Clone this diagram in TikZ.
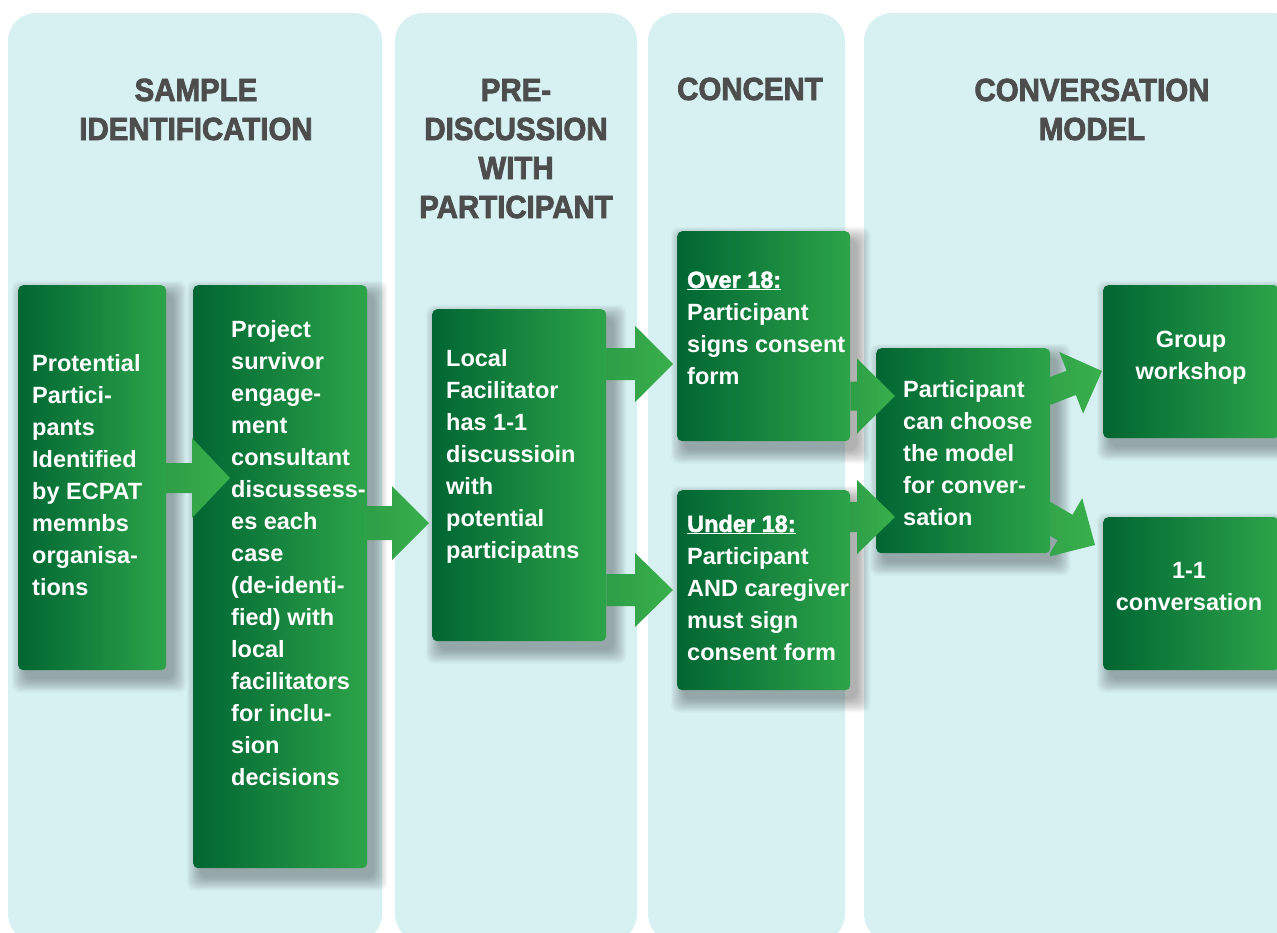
\documentclass[tikz,border=0pt]{standalone}
\usepackage{fontspec}
\setmainfont{Liberation Sans}
\newfontfamily\headfont{Liberation Sans Bold}[FakeStretch=0.92, FakeBold=2.5]
\newfontfamily\bodyfont{Liberation Sans}[UprightFont=* Bold]
\newfontfamily\heavyfont{Liberation Sans Bold}[FakeBold=2]
\usetikzlibrary{calc}

\pgfdeclarelayer{lanes}
\pgfdeclarelayer{shadows}
\pgfsetlayers{lanes,shadows,main}

\definecolor{lanebg}{HTML}{D7F1F3}
\definecolor{headgray}{HTML}{4D4D4D}
\definecolor{boxdark}{HTML}{006633}
\definecolor{boxlight}{HTML}{2DA449}
\definecolor{arrowdark}{HTML}{2E9E47}
\definecolor{arrowlight}{HTML}{38B04B}

\tikzset{
  lane/.style={fill=lanebg, rounded corners=28pt},
  flowbox/.style={rectangle, rounded corners=5pt, left color=boxdark, right color=boxlight,
    anchor=north west, inner sep=0pt},
  shadowpiece/.style={fill=black, fill opacity=0.026, rounded corners=8pt},
  headtext/.style={font=\headfont\fontsize{32}{39}\selectfont, text=headgray, align=center,
    anchor=base, inner sep=0pt},
  bodytext/.style={font=\bodyfont\fontsize{23.5}{32}\selectfont, text=white, align=left,
    anchor=base west, inner sep=0pt},
  bodytextc/.style={bodytext, align=center, anchor=base},
  arrowfill/.style={left color=arrowdark, right color=arrowlight},
}

% soft drop shadow behind a box, offset to the lower right
\newcommand\softshadow[1]{%
  \begin{pgfonlayer}{shadows}
    \foreach \r in {0,1.2,...,13.2}{%
      \path[shadowpiece] ($(#1.north west)+(7-\r,9-\r)$) rectangle ($(#1.south east)+(7+\r,9+\r)$);
    }
  \end{pgfonlayer}%
}

% block arrow: start, tip, shaft half width, head half width, head length
\newcommand\blockarrow[5]{%
  \coordinate (hb) at ($(#2)!#5!(#1)$);
  \path[arrowfill] ($(#1)!#3!90:(#2)$) -- ($(hb)!#3!90:(#2)$) -- ($(hb)!#4!90:(#2)$)
    -- (#2) -- ($(hb)!#4!-90:(#2)$) -- ($(hb)!#3!-90:(#2)$) -- ($(#1)!#3!-90:(#2)$) -- cycle;
}

\begin{document}
\begin{tikzpicture}[x=1pt,y=-1pt]
\useasboundingbox (0,0) rectangle (1277,932);
\clip (0,0) rectangle (1277,932);

% columns
\begin{pgfonlayer}{lanes}
\fill[white] (0,0) rectangle (1277,932);
\fill[lane] (8,13) rectangle (382,942);
\fill[lane] (395,13) rectangle (637,942);
\fill[lane] (648,13) rectangle (845,942);
\fill[lane] (864,13) rectangle (1300,942);
\end{pgfonlayer}

% column headings (anchored at the baseline of their last line)
\node[headtext] (h1) at (196,140) {SAMPLE\\IDENTIFICATION};
\node[headtext] (h2) at (516,218) {PRE-\\DISCUSSION\\WITH\\PARTICIPANT};
\node[headtext] (h3) at (750,100) {CONCENT};
\node[headtext] (h4) at (1092,140) {CONVERSATION\\MODEL};

% process boxes
\node[flowbox, minimum width=148pt, minimum height=385pt] (b1) at (18,285) {};
\node[flowbox, minimum width=174pt, minimum height=583pt] (b2) at (193,285) {};
\node[flowbox, minimum width=174pt, minimum height=332pt] (b3) at (432,309) {};
\node[flowbox, minimum width=173pt, minimum height=210pt] (b4) at (677,231) {};
\node[flowbox, minimum width=173pt, minimum height=200pt] (b5) at (677,490) {};
\node[flowbox, minimum width=174pt, minimum height=205pt] (b6) at (876,348) {};
\node[flowbox, minimum width=176pt, minimum height=153pt] (b7) at (1103,285) {};
\node[flowbox, minimum width=176pt, minimum height=153pt] (b8) at (1103,517) {};
\foreach \b in {b1,b2,b3,b4,b5,b6,b7,b8}{\softshadow{\b}}

% arrow end points
\coordinate (a1t) at (230,478);
\coordinate (a2t) at (429,523);
\coordinate (a3t) at (673,364);
\coordinate (a4t) at (673,590);
\coordinate (a5t) at (895,396);
\coordinate (a6t) at (895,517);
\coordinate (a7s) at (1030,398.7);
\coordinate (a7t) at (1102,371);
\coordinate (a8s) at (1030,507);
\coordinate (a8t) at (1095,545);

% arrows
\blockarrow{b1.east |- a1t}{a1t}{15pt}{40pt}{38pt}
\blockarrow{b2.east |- a2t}{a2t}{17pt}{37pt}{37pt}
\blockarrow{b3.east |- a3t}{a3t}{16pt}{38pt}{38pt}
\blockarrow{b3.east |- a4t}{a4t}{16pt}{37pt}{38pt}
\blockarrow{b4.east |- a5t}{a5t}{14.5pt}{37.5pt}{38pt}
\blockarrow{b5.east |- a6t}{a6t}{15pt}{37pt}{38pt}
\begin{scope}
  \clip (b6.north east) rectangle (1300,700);
  \blockarrow{a7s}{a7t}{13pt}{33pt}{33pt}
  \blockarrow{a8s}{a8t}{14.7pt}{34pt}{34.7pt}
\end{scope}

% box texts (anchored at the baseline of their last line)
\node[bodytext] (t1) at (32,595) {Protential\\Partici-\\pants\\Identified\\by ECPAT\\memnbs\\organisa-\\tions};
\node[bodytext] (t2) at (231,785) {Project\\survivor\\engage-\\ment\\consultant\\discussess-\\es each\\case\\(de-identi-\\fied) with\\local\\facilitators\\for inclu-\\sion\\decisions};
\node[bodytext] (t3) at (446,558) {Local\\Facilitator\\has 1-1\\discussioin\\with\\potential\\participatns};
\node[bodytext] (t4) at (687,384) {\underline{\heavyfont Over 18:}\\Participant\\signs consent\\form};
\node[bodytext] (t5) at (687,660) {\underline{\heavyfont Under 18:}\\Participant\\AND caregiver\\must sign\\consent form};
\node[bodytext] (t6) at (903,525) {Participant\\can choose\\the model\\for conver-\\sation};
\node[bodytextc] (t7) at (1191,379) {Group\\workshop};
\node[bodytextc] (t8) at (1189,610) {1-1\\conversation};
\end{tikzpicture}
\end{document}
